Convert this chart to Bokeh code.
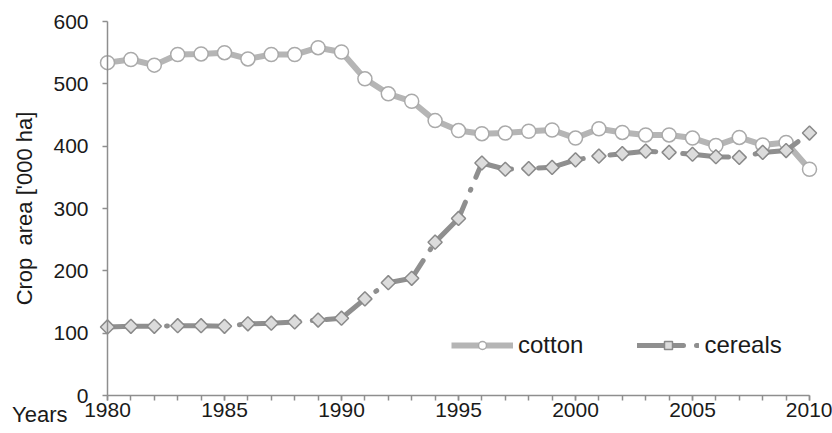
import numpy as np
from bokeh.plotting import figure
from bokeh.models import Range1d, SingleIntervalTicker, Legend, LegendItem, Label, ColumnDataSource
from bokeh.embed import file_html
from bokeh.resources import INLINE

years = list(range(1980, 2011))
cotton = [534, 539, 530, 547, 548, 550, 540, 547, 547, 558, 551, 508, 484, 472, 441,
          425, 420, 421, 424, 426, 413, 428, 422, 418, 418, 413, 401, 414, 402, 406, 363]
cereals = [110, 111, 111, 112, 112, 111, 115, 116, 118, 121, 124, 155, 181, 188, 246,
           284, 373, 363, 364, 366, 378, 384, 388, 392, 390, 387, 383, 382, 390, 393, 421]
y_ticks_interval = 100
x_label_interval = 5

src = ColumnDataSource(dict(year=years, cotton=cotton, cereals=cereals))

FONT = "Liberation Sans"
TXT = "#1a1a1a"
AX = "#8e8e8e"

p = figure(width=832, height=433, output_backend="svg", toolbar_location=None,
           x_range=Range1d(1975.427, 2010.983), y_range=Range1d(-60.96, 633.69),
           min_border_left=0, min_border_right=0, min_border_top=0, min_border_bottom=0)
p.outline_line_color = None
p.xgrid.visible = False
p.ygrid.visible = False
p.background_fill_color = "white"
p.border_fill_color = "white"

# axes
xa = p.xaxis[0]
xa.fixed_location = 0
xa.bounds = (1980, 2010)
xa.ticker = SingleIntervalTicker(interval=x_label_interval, num_minor_ticks=5)
xa.major_tick_in = 0
xa.major_tick_out = 5
xa.minor_tick_in = 0
xa.minor_tick_out = 5
xa.axis_line_color = AX
xa.major_tick_line_color = AX
xa.minor_tick_line_color = AX
xa.axis_line_width = 1.5
xa.major_tick_line_width = 1.5
xa.minor_tick_line_width = 1.5
xa.major_label_standoff = 2
xa.major_label_text_font = FONT
xa.major_label_text_font_size = "21px"
xa.major_label_text_color = TXT

ya = p.yaxis[0]
ya.fixed_location = 1980
ya.bounds = (0, 600)
ya.ticker = SingleIntervalTicker(interval=y_ticks_interval, num_minor_ticks=0)
ya.major_tick_in = 0
ya.major_tick_out = 5
ya.minor_tick_line_color = None
ya.axis_line_color = AX
ya.major_tick_line_color = AX
ya.axis_line_width = 1.5
ya.major_tick_line_width = 1.5
ya.major_label_standoff = 14
ya.major_label_text_font = FONT
ya.major_label_text_font_size = "21px"
ya.major_label_text_color = TXT
ya.axis_label = "Crop\u00a0 area ['000 ha]"
ya.axis_label_text_font = FONT
ya.axis_label_text_font_size = "22px"
ya.axis_label_text_font_style = "normal"
ya.axis_label_text_color = TXT
ya.axis_label_standoff = 13

# series
l1 = p.line("year", "cotton", source=src, line_color="#b5b5b5", line_width=6, line_join="round")
m1 = p.scatter("year", "cotton", source=src, marker="circle", size=14,
               fill_color="white", line_color="#aaaaaa", line_width=1.5)
l2 = p.line("year", "cereals", source=src, line_color="#8f8f8f", line_width=5,
            line_dash="46 13 1 13", line_cap="round", line_join="round")
m2 = p.scatter("year", "cereals", source=src, marker="square", angle=np.pi / 4, size=10,
               fill_color="#dcdcdc", line_color="#8a8a8a", line_width=1.5)

legend = Legend(items=[LegendItem(label="cotton", renderers=[l1, m1]),
                       LegendItem(label="cereals", renderers=[l2, m2])],
                orientation="horizontal", location=(451, 74),
                glyph_width=62, glyph_height=20, label_standoff=5, spacing=54,
                padding=0, margin=0, border_line_color=None, background_fill_alpha=0,
                label_text_font=FONT, label_text_font_size="24px", label_text_color=TXT)
p.add_layout(legend, "center")

years_lbl = Label(x=1980, y=0, x_offset=-40, y_offset=-6, text="Years",
                  text_align="right", text_baseline="top", text_font=FONT,
                  text_font_size="22px", text_color=TXT)
p.add_layout(years_lbl)

open("out.html", "w").write(file_html(p, INLINE))
